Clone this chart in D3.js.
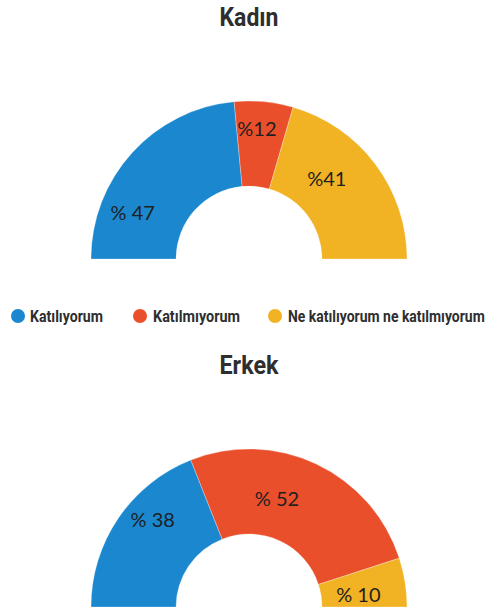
<!DOCTYPE html>
<html>
<head>
<meta charset="utf-8">
<script src="https://cdn.jsdelivr.net/npm/d3@7"></script>
<style>
  html, body { margin: 0; padding: 0; background: #fff; }
  svg { display: block; }
</style>
</head>
<body>
<svg id="chart" width="491" height="613"></svg>
<script>
// Answer categories and their colours
const categories = ["Katılıyorum", "Katılmıyorum", "Ne katılıyorum ne katılmıyorum"];
const colors = ["#1a87cf", "#ea4f2b", "#f1b324"];

// Group titles
const groups = ["Kadın", "Erkek"];

// Percentages per group, in category order
const kadinValues = [47, 12, 41];
const erkekValues = [38, 52, 10];

// Printed value labels
const kadinLabels = ["% 47", "%12", "%41"];
const erkekLabels = ["% 38", "% 52", "% 10"];

// ---- layout ----
const cx = 249;
const outerR = 158;
const innerR = 73;

// label spots: [angle in degrees from the left end, distance from centre]
const layouts = [
  { title: groups[0], titleY: 26, cy: 259, values: kadinValues, labels: kadinLabels,
    spots: [[21.6, 125], [93.5, 130], [134, 112]] },
  { title: groups[1], titleY: 374, cy: 607, values: erkekValues, labels: erkekLabels,
    spots: [[42.2, 130], [104.5, 112], [173.7, 110]] }
];

const svg = d3.select("#chart");

// Draws a bold, horizontally condensed text fitted to a given width.
function condensedText(parent, str, x, y, width, size, anchor) {
  const g = parent.append("g");
  const t = g.append("text")
    .attr("font-family", "Roboto, sans-serif")
    .attr("font-weight", 700)
    .attr("font-size", size)
    .attr("fill", "#2e2e2e")
    .text(str);
  const natural = t.node().getComputedTextLength();
  const sx = width / natural;
  const x0 = anchor === "middle" ? x - width / 2 : x;
  g.attr("transform", `translate(${x0},${y}) scale(${sx},1)`);
  return g;
}

const pie = d3.pie()
  .sort(null)
  .value(d => d)
  .startAngle(-Math.PI / 2)
  .endAngle(Math.PI / 2);

const arc = d3.arc().innerRadius(innerR).outerRadius(outerR);

const color = d3.scaleOrdinal().domain(d3.range(categories.length)).range(colors);

layouts.forEach(cfg => {
  condensedText(svg, cfg.title, cx, cfg.titleY, 59, 25, "middle");

  const g = svg.append("g").attr("transform", `translate(${cx},${cfg.cy})`);

  g.selectAll("path")
    .data(pie(cfg.values))
    .join("path")
    .attr("d", arc)
    .attr("fill", (d, i) => color(i))
    .attr("stroke", "rgba(255,255,255,0.35)")
    .attr("stroke-width", 0.8);

  g.selectAll("text.val")
    .data(cfg.labels)
    .join("text")
    .attr("class", "val")
    .attr("x", (d, i) => -cfg.spots[i][1] * Math.cos(cfg.spots[i][0] * Math.PI / 180))
    .attr("y", (d, i) => -cfg.spots[i][1] * Math.sin(cfg.spots[i][0] * Math.PI / 180))
    .attr("dy", "0.36em")
    .attr("text-anchor", "middle")
    .attr("font-family", "Lato, 'Open Sans', sans-serif")
    .attr("font-size", 20)
    .attr("fill", "#1f1f1f")
    .text(d => d);
});

// Legend
const legendItems = [
  { cx: 18, tx: 30, w: 73 },
  { cx: 140, tx: 153, w: 87 },
  { cx: 275, tx: 288, w: 197 }
];
const legendY = 316;
const legend = svg.append("g");
legend.selectAll("circle")
  .data(categories)
  .join("circle")
  .attr("cx", (d, i) => legendItems[i].cx)
  .attr("cy", legendY)
  .attr("r", 7)
  .attr("fill", (d, i) => color(i));
categories.forEach((c, i) => {
  condensedText(legend, c, legendItems[i].tx, legendY + 6, legendItems[i].w, 16, "start");
});
</script>
</body>
</html>
